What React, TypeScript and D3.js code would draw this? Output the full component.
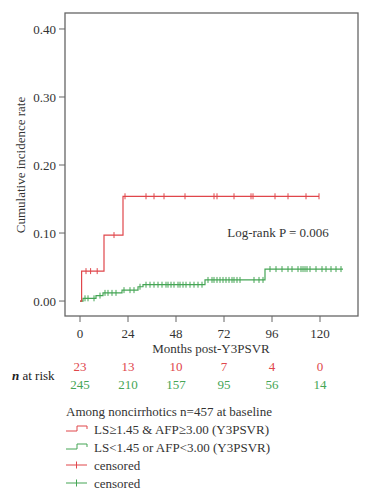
import React from 'react';
import * as d3 from 'd3';

// step curves: [month, cumulative incidence]
const redSteps: [number, number][] = [[0, 0], [0.8, 0.044], [12, 0.097], [21.5, 0.154], [119.5, 0.154]];
const greenSteps: [number, number][] = [
  [0, 0], [1.5, 0.004], [8, 0.008], [11.5, 0.012], [21, 0.016], [29, 0.021],
  [31.5, 0.024], [62.5, 0.031], [92.5, 0.047], [131.5, 0.047],
];
const redCensored = [3, 5.3, 8.6, 17, 22.5, 33, 37, 42, 52.5, 67, 68.5, 77, 85.5, 86.5, 97.5, 104, 113, 119.5];
const greenCensored = [
  2.5, 4, 7, 10, 12.5, 14, 16, 18, 22, 25, 27, 30, 33, 35, 37, 39, 41, 43, 44, 45.5, 47, 49,
  50, 51.5, 53, 55, 57, 59, 61, 64, 66, 67, 68.5, 70, 71.5, 73, 74.5, 76, 77, 78.5, 80,
  87, 89.5, 91.5, 95, 98, 101, 104, 106, 109, 110.5, 111.5, 112.5, 113.5, 115, 118, 121,
  123, 125.5, 128, 130.5,
];
const xTicks = [0, 24, 48, 72, 96, 120];
const yTicks = [0, 0.1, 0.2, 0.3, 0.4];
const riskRed = [23, 13, 10, 7, 4, 0];
const riskGreen = [245, 210, 157, 95, 56, 14];
const legendLabels = ['LS\u22651.45 & AFP\u22653.00 (Y3PSVR)', 'LS<1.45 or AFP<3.00 (Y3PSVR)', 'censored', 'censored'];

const RED = '#e0464b';
const GREEN = '#45a555';
const FONT = '"Liberation Serif", "DejaVu Serif", serif';
const FS = 13;

export default function App() {
  const left = 65, right = 358, top = 13, bottom = 316;
  const x = d3.scaleLinear().domain([-7.5, 139]).range([left, right]);
  const y = d3.scaleLinear().domain([-0.022, 0.4235]).range([bottom, top]);
  const line = d3.line<[number, number]>().x((d) => x(d[0])).y((d) => y(d[1])).curve(d3.curveStepAfter);

  // value of a step curve at time t
  const valueAt = (steps: [number, number][], t: number) => {
    let v = 0;
    steps.forEach((s) => { if (s[0] <= t) v = s[1]; });
    return v;
  };

  return (
    <svg width={371} height={500} style={{ position: 'absolute', left: 0, top: 0, fontFamily: FONT }}>
      <rect x={0} y={0} width={371} height={500} fill="#fff" />
      <rect x={left} y={top} width={right - left} height={bottom - top} fill="none" stroke="#666" strokeWidth={1.3} />

      {yTicks.map((t) => (
        <g key={t}>
          <line x1={left - 6} x2={left} y1={y(t)} y2={y(t)} stroke="#666" />
          <text x={left - 9} y={y(t)} dy="0.35em" textAnchor="end" fontSize={FS} fill="#333">{t.toFixed(2)}</text>
        </g>
      ))}
      {xTicks.map((t) => (
        <g key={t}>
          <line x1={x(t)} x2={x(t)} y1={bottom} y2={bottom + 6} stroke="#666" />
          <text x={x(t)} y={bottom + 17} dy="0.35em" textAnchor="middle" fontSize={FS} fill="#333">{t}</text>
        </g>
      ))}
      <text transform="translate(20,165) rotate(-90)" dy="0.35em" textAnchor="middle" fontSize={FS} fill="#333">
        Cumulative incidence rate
      </text>
      <text x={211} y={348} dy="0.35em" textAnchor="middle" fontSize={FS} fill="#333">Months post-Y3PSVR</text>

      <path d={line(greenSteps) || ''} fill="none" stroke={GREEN} strokeWidth={1.2} />
      <path d={line(redSteps) || ''} fill="none" stroke={RED} strokeWidth={1.2} />
      {greenCensored.map((t, i) => (
        <line key={'g' + i} x1={x(t)} x2={x(t)} y1={y(valueAt(greenSteps, t)) - 3} y2={y(valueAt(greenSteps, t)) + 3} stroke={GREEN} strokeWidth={1} />
      ))}
      {redCensored.map((t, i) => (
        <line key={'r' + i} x1={x(t)} x2={x(t)} y1={y(valueAt(redSteps, t)) - 3} y2={y(valueAt(redSteps, t)) + 3} stroke={RED} strokeWidth={1} />
      ))}

      <text x={278} y={232} dy="0.35em" textAnchor="middle" fontSize={FS} fill="#333">Log-rank P = 0.006</text>

      <text x={12} y={375} dy="0.35em" fontSize={FS} fill="#222">
        <tspan fontStyle="italic" fontWeight="bold">n</tspan> at risk
      </text>
      {xTicks.map((t, i) => (
        <g key={'risk' + t}>
          <text x={x(t)} y={366} dy="0.35em" textAnchor="middle" fontSize={FS} fill={RED}>{riskRed[i]}</text>
          <text x={x(t)} y={384} dy="0.35em" textAnchor="middle" fontSize={FS} fill={GREEN}>{riskGreen[i]}</text>
        </g>
      ))}

      <text x={66} y={411} dy="0.35em" fontSize={FS} fill="#333">Among noncirrhotics n=457 at baseline</text>
      {legendLabels.map((lab, i) => {
        const ly = 429 + i * 18;
        const c = i % 2 === 0 ? RED : GREEN;
        return (
          <g key={'leg' + i}>
            {i < 2 ? (
              <path d={`M66,${ly + 2}H77V${ly - 3}H87V${ly}`} fill="none" stroke={c} strokeWidth={1} />
            ) : (
              <g>
                <line x1={66} x2={87} y1={ly} y2={ly} stroke={c} strokeWidth={1} />
                <line x1={76.5} x2={76.5} y1={ly - 3.5} y2={ly + 3.5} stroke={c} strokeWidth={1} />
              </g>
            )}
            <text x={94} y={ly} dy="0.35em" fontSize={FS} fill="#333">{lab}</text>
          </g>
        );
      })}
    </svg>
  );
}
